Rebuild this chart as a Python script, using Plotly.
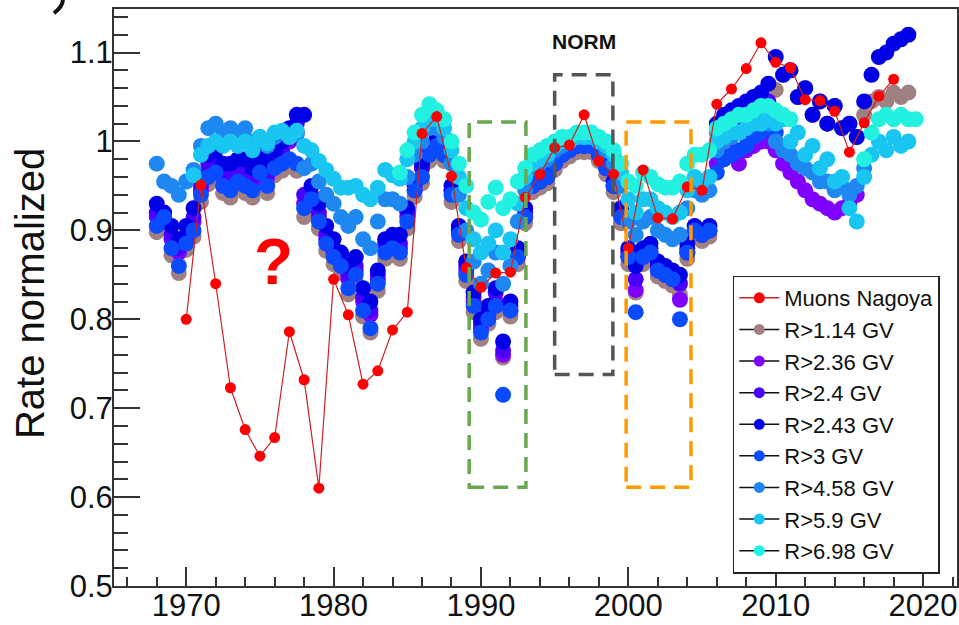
import plotly.graph_objects as go

# ---------------- data ----------------
muon_years = list(range(1970, 2019))
muon_rate = [0.800, 0.951, 0.840, 0.723, 0.676, 0.646, 0.667, 0.786, 0.732, 0.610,
             0.845, 0.805, 0.727, 0.742, 0.788, 0.808, 1.009, 1.028, 0.961, 0.858,
             0.836, 0.852, 0.853, 0.937, 0.963, 0.993, 0.996, 1.030, 0.978, 0.963,
             0.880, 0.968, 0.914, 0.913, 0.949, 0.945, 1.042, 1.059, 1.082, 1.111,
             1.089, 1.083, 1.047, 1.046, 1.034, 0.988, 1.021, 1.051, 1.070]

# neutron monitor series, half-year samples starting at the given year
nm_1p14_start = 1968.0
nm_1p14 = [.898, .905, .872, .852, .878, .893, .932, .952, .958, .942,
           .937, .947, .942, .937, .957, .942, .962, .967, .972, .967,
           .915, .925, .902, .877, .862, .852, .828, .842, .803, .785,
           .832, .868, .872, .868, .902, .938, .953, .978, .988, .978,
           .932, .888, .843, .808, .778, .795, .808, .757, .803, .862,
           .908, .943, .948, .953, .968, .978, .983, .988, .988, .988,
           .978, .963, .943, .908, .862, .830, .862, .868, .848, .843,
           .838, .828, .868, .893, .888, .893, 1.010, 1.020, 1.025, 1.030,
           1.035, 1.045, 1.050, 1.055, 1.058, 1.075, 1.080, 1.050, 1.060, 1.030,
           1.045, 1.020, 1.040, 1.015, 1.020, 1.005, 1.030, 1.045, 1.050, 1.045,
           1.055, 1.050, 1.055]

nm_2p36_start = 1968.0
nm_2p36 = [.915, .910, .890, .875, .890, .910, .945, .970, .975, .960,
           .960, .965, .965, .955, .970, .960, .975, .985, 1.000, 1.010,
           .930, .935, .915, .890, .875, .860, .845, .855, .820, .805,
           .845, .880, .885, .880, .915, .945, .970, .990, 1.000, .985,
           .945, .900, .855, .820, .790, .805, .820, .760, .810, .870,
           .915, .950, .955, .960, .975, .985, .990, .995, .995, .995,
           .985, .970, .950, .920, .870, .833, .870, .875, .855, .850,
           .845, .822, .875, .900, .895, .900, .975, .985, .990, .975,
           .990, .995, 1.000, 1.000, .990, .975, .965, .955, .945, .935,
           .930, .925, .920, .925, .930, .940]

nm_2p4_start = 1968.0
nm_2p4 = [.920, .915, .895, .880, .895, .915, .950, .975, .980, .965,
          .965, .970, .970, .960, .975, .965, .980, .990, 1.005, 1.020,
          .940, .940, .920, .895, .880, .865, .850, .860, .825, .810,
          .850, .885, .890, .885, .920, .950, .970, .990, 1.000, .985,
          .945, .900, .860, .825, .795, .810, .830, .765, .815, .875,
          .920, .950, .955, .960, .975, .985, .990, .995, .995, .995,
          .985, .970, .950, .920, .875, .845, .875, .880, .860, .855,
          .850, .840, .880, .900, .895, .900, 1.000, 1.010, 1.020, 1.025,
          1.030, 1.035, 1.040, 1.045]

nm_2p43_start = 1968.0
nm_2p43 = [.930, .920, .905, .890, .905, .925, .960, .985, .990, .975,
           .975, .980, .980, .970, .985, .975, .990, 1.000, 1.015, 1.030,
           1.030, .950, .930, .905, .890, .875, .860, .870, .835, .820,
           .855, .890, .895, .895, .925, .955, .975, .995, 1.005, .990,
           .950, .905, .865, .830, .800, .815, .835, .775, .820, .880,
           .925, .955, .960, .965, .980, .990, .995, 1.000, 1.000, 1.000,
           .990, .975, .955, .925, .880, .860, .880, .885, .865, .860,
           .855, .850, .885, .905, .900, .905, 1.020, 1.030, 1.035, 1.040,
           1.045, 1.050, 1.055, 1.065, 1.095, 1.075, 1.080, 1.050, 1.060, 1.030,
           1.045, 1.020, 1.040, 1.015, 1.020, 1.005, 1.045, 1.075, 1.095, 1.100,
           1.110, 1.115, 1.120]

nm_3_start = 1968.0
nm_3 = [.905, .915, .880, .860, .885, .900, .940, .960, .965, .950,
        .945, .955, .950, .945, .965, .950, .970, .975, .980, .975,
        .925, .935, .910, .885, .870, .860, .835, .850, .810, .790,
        .840, .875, .880, .875, .910, .945, .960, .985, .995, .985,
        .940, .895, .850, .815, .785, .800, .815, .715, .810, .870,
        .915, .950, .955, .960, .975, .985, .990, .995, .995, .995,
        .985, .970, .950, .915, .870, .808, .870, .875, .855, .850,
        .845, .800, .875, .900, .895, .900, .965, .980, .985, .990,
        .995, 1.005, 1.010, 1.015, 1.010]

nm_4p58_start = 1968.0
nm_4p58 = [.975, .955, .950, .940, .955, .968, .995, 1.015, 1.020, 1.010,
           1.015, 1.005, 1.015, 1.000, 1.005, .995, 1.005, 1.010, 1.005, 1.008,
           .970, .975, .955, .940, .930, .915, .905, .915, .890, .880,
           .910, .935, .935, .930, .960, .985, 1.000, 1.015, 1.015, 1.005,
           .975, .940, .900, .865, .840, .855, .875, .840, .860, .910,
           .945, .970, .975, .980, .990, .995, 1.000, 1.005, 1.005, 1.005,
           1.000, .990, .975, .950, .910, .895, .910, .915, .900, .895,
           .890, .895, .925, .945, .940, .945, .990, 1.000, 1.005, 1.010,
           1.015, 1.020, 1.025, 1.020, 1.000, .990, .985, .975, .970, .965,
           .955, .955, .945, .950, .940, .950, .970]

nm_5p9_start = 1970.5
nm_5p9 = [.962, .985, .995, 1.000, .995, 1.000, .995, 1.000, .990, 1.005,
          .998, 1.010, 1.012, 1.005, 1.012, .995, .990, .978, .968, .958,
          .948, .948, .950, .940, .935, .948, .968, .962, .958, .980,
          1.000, 1.015, 1.025, 1.025, 1.015, .990, .960, .925, .890, .875,
          .885, .900, .875, .890, .930, .960, .975, .980, .985, .995,
          1.000, 1.000, 1.005, 1.005, 1.005, 1.000, .995, .985, .965, .935,
          .920, .935, .935, .925, .920, .915, .920, .945, .960, .955,
          .960, 1.000, 1.005, 1.010, 1.010, 1.015, 1.020, 1.020, 1.030, 1.020,
          1.025, 1.000, 1.010, .985, .995, .970, .980, .955, .960, .925,
          .910, .960, .985, 1.000, .990, 1.005, .995, 1.000]

nm_6p98_start = 1984.5
nm_6p98 = [.965, .990, 1.010, 1.030, 1.042, 1.035, 1.025, 1.000, .975, .950,
           .920, .912, .932, .948, .925, .935, .955, .970, .985, .990,
           .995, 1.000, 1.005, 1.005, 1.010, 1.010, 1.010, 1.005, 1.000, .990,
           .975, .955, .950, .965, .960, .952, .948, .948, .955, .975,
           .985, .985, .990, 1.015, 1.020, 1.025, 1.030, 1.030, 1.035, 1.040,
           1.040, 1.035, 1.030, 1.025, None, None, None, None, None, None,
           None, None, None, .980, 1.010, 1.025, 1.030, 1.025, 1.030, 1.025,
           1.025]

series = [
    ("R>1.14 GV", nm_1p14_start, nm_1p14, "#a08080"),
    ("R>2.36 GV", nm_2p36_start, nm_2p36, "#7f00ff"),
    ("R>2.4 GV", nm_2p4_start, nm_2p4, "#4a00ff"),
    ("R>2.43 GV", nm_2p43_start, nm_2p43, "#0000e6"),
    ("R>3 GV", nm_3_start, nm_3, "#0a4bff"),
    ("R>4.58 GV", nm_4p58_start, nm_4p58, "#1e88f0"),
    ("R>5.9 GV", nm_5p9_start, nm_5p9, "#19c6f2"),
    ("R>6.98 GV", nm_6p98_start, nm_6p98, "#22f0e0"),
]

FONT = "Liberation Sans, Arial, Helvetica, sans-serif"

fig = go.Figure()

# legend entries (ROOT style: black line, coloured marker)
fig.add_trace(go.Scatter(x=[None], y=[None], mode="lines+markers", name="Muons Nagoya",
                         line=dict(color="#e02020", width=1.5),
                         marker=dict(color="#ff0000", size=11, symbol="circle")))
for name, start, vals, col in series:
    fig.add_trace(go.Scatter(x=[None], y=[None], mode="lines+markers", name=name,
                             line=dict(color="#111111", width=1.5),
                             marker=dict(color=col, size=11, symbol="circle")))

# neutron monitor data
for name, start, vals, col in series:
    xs = [start + 0.5 * i for i in range(len(vals))]
    fig.add_trace(go.Scatter(x=xs, y=vals, mode="markers", showlegend=False,
                             marker=dict(color=col, size=16, line=dict(width=0))))

# muon data on top
fig.add_trace(go.Scatter(x=muon_years, y=muon_rate, mode="lines+markers", showlegend=False,
                         line=dict(color="#d02020", width=1.2),
                         marker=dict(color="#ff0000", size=11, line=dict(width=0))))

# dashed boxes
boxes = [
    (1989.2, 1993.05, 0.611, 1.022, "#6aa84f"),
    (1995.0, 1998.95, 0.738, 1.075, "#555555"),
    (1999.85, 2004.25, 0.611, 1.022, "#ff9900"),
]
for x0, x1, y0, y1, c in boxes:
    fig.add_shape(type="rect", x0=x0, x1=x1, y0=y0, y1=y1, xref="x", yref="y",
                  line=dict(color=c, width=3.5, dash="15px,9px"), fillcolor="rgba(0,0,0,0)")

# fragment of a neighbouring panel label at the top-left edge
fig.add_shape(type="path", xref="paper", yref="paper",
              path="M -0.0605,1.0156 Q -0.0615,1.003 -0.0712,0.993",
              line=dict(color="#111111", width=4))

fig.add_annotation(x=1997.0, y=1.112, xref="x", yref="y", text="<b>NORM</b>", showarrow=False,
                   font=dict(family=FONT, size=21, color="#111111"))
fig.add_annotation(x=1975.9, y=0.864, xref="x", yref="y", text="<b>?</b>", showarrow=False,
                   font=dict(family=FONT, size=64, color="#ff0000"))
fig.add_annotation(x=-0.0996, y=0.506, xref="paper", yref="paper", text="Rate normalized",
                   textangle=-90, showarrow=False, xanchor="center", yanchor="middle",
                   font=dict(family=FONT, size=40, color="#111111"))

fig.update_layout(
    width=959, height=625,
    margin=dict(l=114, r=2, t=9, b=39),
    paper_bgcolor="white", plot_bgcolor="white",
    font=dict(family=FONT, color="#111111"),
    showlegend=True,
    legend=dict(x=0.734, y=0.538, xanchor="left", yanchor="top",
                bgcolor="white", bordercolor="#222222", borderwidth=1.5,
                font=dict(family=FONT, size=22, color="#111111"),
                itemwidth=40, tracegroupgap=0),
)

fig.update_xaxes(range=[1965.1, 2022.3], tick0=1970, dtick=10, ticks="inside", ticklen=19,
                 tickwidth=2, tickcolor="#333333", showline=True, linecolor="#333333", linewidth=2,
                 mirror=True, showgrid=False, zeroline=False, automargin=False,
                 ticklabelstandoff=-9,
                 tickfont=dict(family=FONT, size=31, color="#111111"),
                 minor=dict(dtick=2, tick0=1970, ticks="inside", ticklen=9, tickwidth=1.5,
                            tickcolor="#333333", showgrid=False))
fig.update_yaxes(range=[0.5, 1.149], tick0=0.5, dtick=0.1, ticks="inside", ticklen=26,
                 tickwidth=2, tickcolor="#333333", showline=True, linecolor="#333333", linewidth=2,
                 mirror=True, showgrid=False, zeroline=False, automargin=False,
                 ticklabelstandoff=-7,
                 tickfont=dict(family=FONT, size=31, color="#111111"),
                 minor=dict(dtick=0.02, tick0=0.5, ticks="inside", ticklen=14, tickwidth=1.5,
                            tickcolor="#333333", showgrid=False))

fig.write_html("out.html")
